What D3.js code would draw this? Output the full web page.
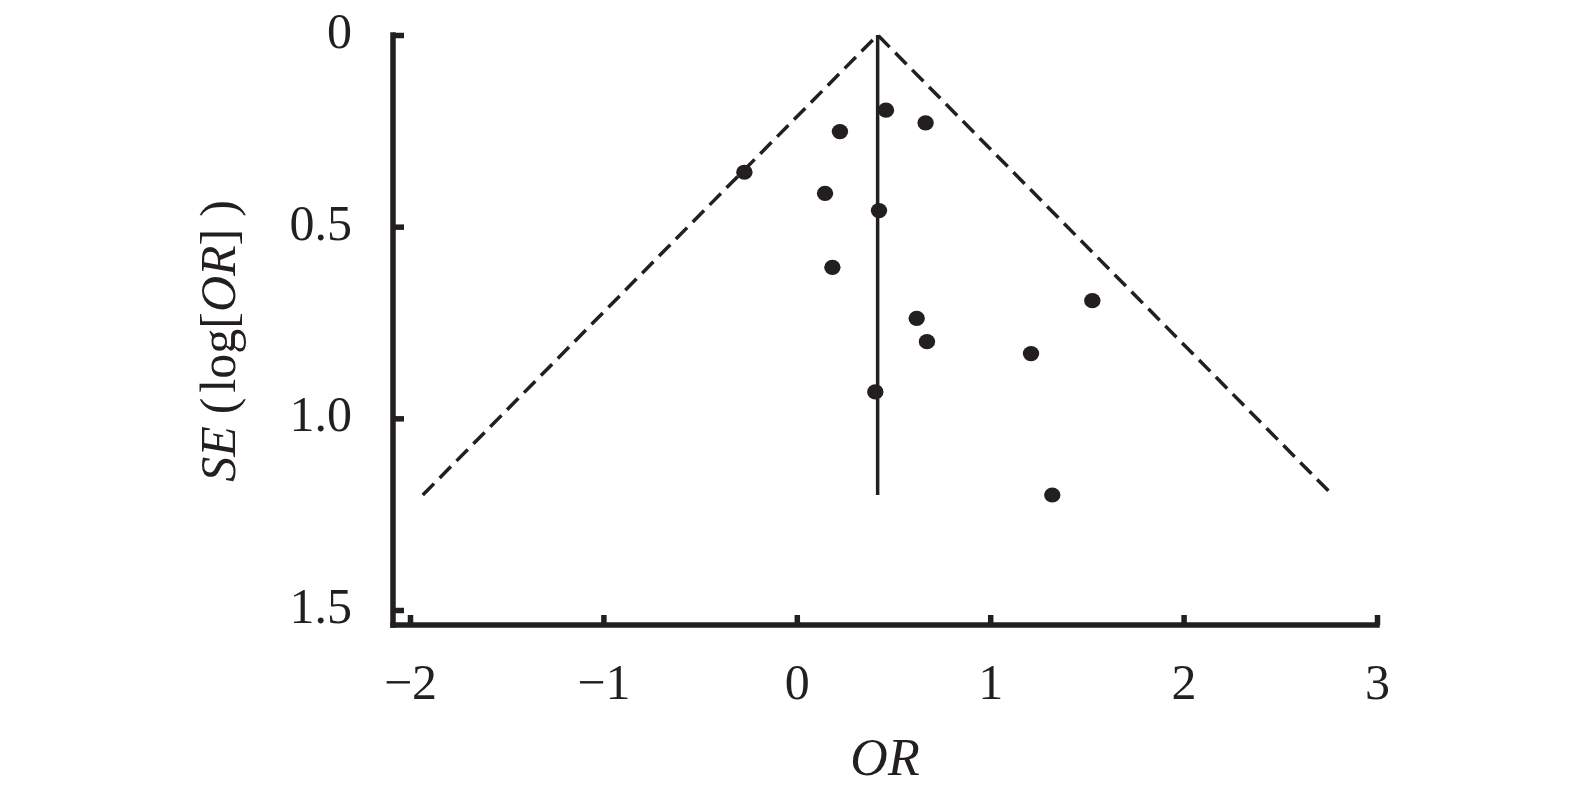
<!DOCTYPE html>
<html>
<head>
<meta charset="utf-8">
<script src="https://cdn.jsdelivr.net/npm/d3@7"></script>
<style>
  html, body { margin: 0; padding: 0; background: #fff; }
  svg { display: block; }
  text { font-family: "Liberation Serif", "DejaVu Serif", serif; fill: #231f20; }
</style>
</head>
<body>
<svg id="chart" width="1575" height="797"></svg>
<script>
// ---- Data ----
const studyOR = [0.461, 0.666, 0.223, -0.271, 0.146, 0.425, 0.184, 0.620, 0.673, 0.406, 1.528, 1.211, 1.321];
const studySE = [0.196, 0.229, 0.252, 0.358, 0.413, 0.458, 0.606, 0.739, 0.800, 0.931, 0.693, 0.831, 1.200];
const pooledOR = 0.418;
const funnelMaxSE = 1.2;
const xTicks = [-2, -1, 0, 1, 2, 3];
const yTicks = [0, 0.5, 1.0, 1.5];
const yTickLabels = ["0", "0.5", "1.0", "1.5"];
const xTitle = "OR";

// ---- Layout ----
const ink = "#231f20";
const svg = d3.select("#chart");
const x = d3.scaleLinear().domain([-2, 3]).range([410, 1377]);
const y = d3.scaleLinear().domain([0, 1.5]).range([35, 610]);
const axisXPos = 625;   // baseline of x axis
const axisYPos = 393;   // x position of y axis
const axisW = 5.5;

// y axis line
svg.append("line")
  .attr("x1", axisYPos).attr("x2", axisYPos)
  .attr("y1", y(0) - axisW / 2).attr("y2", axisXPos + axisW / 2)
  .attr("stroke", ink).attr("stroke-width", axisW);
// x axis line
svg.append("line")
  .attr("x1", axisYPos - axisW / 2).attr("x2", x(3) + axisW / 2)
  .attr("y1", axisXPos).attr("y2", axisXPos)
  .attr("stroke", ink).attr("stroke-width", axisW);

// y axis ticks & labels (ticks pointing inward)
const yAxis = d3.axisLeft(y).tickValues(yTicks)
  .tickFormat((d, i) => yTickLabels[i])
  .tickSizeInner(-11).tickSizeOuter(0).tickPadding(41);
const gy = svg.append("g").attr("transform", `translate(${axisYPos},0)`).call(yAxis);
gy.select(".domain").remove();
gy.selectAll(".tick line").attr("stroke", ink).attr("stroke-width", axisW).attr("x1", 0);
gy.selectAll(".tick text").attr("font-size", 50).attr("dy", 12.5).attr("fill", ink)
  .style("font-family", '"Liberation Serif", serif');

// x axis ticks & labels
const xAxis = d3.axisBottom(x).tickValues(xTicks)
  .tickFormat(d3.format("d"))
  .tickSizeInner(-10).tickSizeOuter(0).tickPadding(0);
const gx = svg.append("g").attr("transform", `translate(0,${axisXPos})`).call(xAxis);
gx.select(".domain").remove();
gx.selectAll(".tick line").attr("stroke", ink).attr("stroke-width", axisW);
gx.selectAll(".tick text").attr("font-size", 50).attr("y", 74).attr("dy", 0).attr("fill", ink)
  .style("font-family", '"Liberation Serif", serif');

// funnel dashed lines
const funnel = [
  [pooledOR - 1.96 * funnelMaxSE, funnelMaxSE],
  [pooledOR, 0],
  [pooledOR + 1.96 * funnelMaxSE, funnelMaxSE]
];
svg.append("path")
  .datum(funnel)
  .attr("d", d3.line().x(d => x(d[0])).y(d => y(d[1])))
  .attr("fill", "none").attr("stroke", ink).attr("stroke-width", 3.5)
  .attr("stroke-dasharray", "16,8");

// pooled estimate vertical line
svg.append("line")
  .attr("x1", x(pooledOR)).attr("x2", x(pooledOR))
  .attr("y1", y(0)).attr("y2", y(funnelMaxSE))
  .attr("stroke", ink).attr("stroke-width", 3.5);

// study points
svg.append("g").selectAll("ellipse")
  .data(studyOR.map((v, i) => ({ or: v, se: studySE[i] })))
  .join("ellipse")
  .attr("cx", d => x(d.or)).attr("cy", d => y(d.se))
  .attr("rx", 8.2).attr("ry", 7.6)
  .attr("fill", ink);

// x title
svg.append("text")
  .attr("x", 885).attr("y", 775)
  .attr("text-anchor", "middle")
  .attr("font-size", 52).attr("font-style", "italic")
  .text(xTitle);

// y title: SE ( log[OR] )
const yt = svg.append("text")
  .attr("transform", `translate(235,341) rotate(-90)`)
  .attr("text-anchor", "middle")
  .attr("font-size", 50);
yt.append("tspan").attr("font-style", "italic").text("SE");
yt.append("tspan").attr("dx", 12).text("(");
yt.append("tspan").attr("dx", 5).text("log[");
yt.append("tspan").attr("font-style", "italic").text("OR");
yt.append("tspan").text("]");
yt.append("tspan").attr("dx", 12).text(")");
</script>
</body>
</html>
